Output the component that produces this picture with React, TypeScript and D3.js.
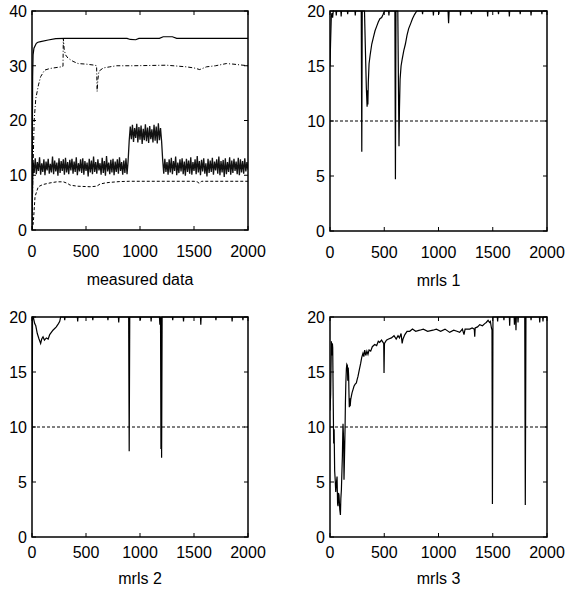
import React from "react";
import * as d3 from "d3";

// ---------- data ----------
const xTicks = [0, 500, 1000, 1500, 2000];
const yTicksMeas = [0, 10, 20, 30, 40];
const yTicksMrls = [0, 5, 10, 15, 20];
const threshold = 10;

// measured data: solid
const measSolid: [number, number][] = [
  [0, 0], [3, 15], [6, 28], [10, 32], [18, 33.2], [40, 34.1], [55, 34.3], [80, 34.4], [150, 34.7], [220, 34.95],
  [300, 35], [880, 35], [910, 34.8], [960, 34.75], [990, 35], [1180, 35], [1215, 35.3], [1300, 35.3], [1340, 35], [2000, 35],
];
// measured data: dash-dot
const measDashDot: [number, number][] = [
  [0, 0], [8, 10], [20, 20], [35, 24], [60, 26.5], [80, 28], [117, 29.2], [166, 29.5], [270, 29.8], [287, 29.9],
  [290, 35], [298, 33], [310, 32], [333, 31.4], [380, 30.8], [426, 30.4], [500, 30.3], [580, 30.1], [598, 30.0],
  [603, 25.3], [610, 27.5], [620, 29], [660, 29.6], [720, 29.8], [783, 30], [937, 30], [1245, 30.1], [1430, 29.8],
  [1500, 29.6], [1553, 29.3], [1615, 29.8], [1700, 30.0], [1800, 30.4], [1861, 30.3], [2000, 30],
];
// measured data: dashed
const measDashed: [number, number][] = [
  [0, 0], [5, 0.5], [12, 1.3], [28, 6.1], [58, 7.9], [100, 8.3], [167, 8.6], [230, 8.8], [290, 8.8], [330, 8.5],
  [352, 8.2], [420, 8.0], [537, 7.9], [600, 8.0], [630, 8.4], [680, 8.6], [722, 8.7], [815, 8.85], [900, 8.9],
  [1500, 8.9], [1530, 8.8], [1550, 8.5], [1570, 8.9], [2000, 8.9],
];
// measured data: noisy dotted signal, one reading every 10 samples from 0 to 2000
const measNoisy = [
  3, 12.6, 10.4, 13.1, 10.2, 12.4, 10.8, 13.3, 10.1, 12.2,
  10.6, 12.9, 10.0, 12.5, 10.9, 13.0, 10.3, 12.1, 10.5, 13.4,
  10.2, 12.7, 10.7, 12.3, 9.9, 13.1, 10.4, 12.6, 10.8, 12.9,
  10.1, 13.2, 10.5, 12.4, 10.2, 12.8, 10.9, 13.0, 10.3, 12.5,
  10.6, 13.3, 10.0, 12.2, 10.7, 12.9, 10.4, 13.1, 10.1, 12.6,
  10.8, 12.3, 9.8, 13.0, 10.5, 12.7, 10.2, 13.4, 10.6, 12.4,
  10.3, 12.9, 10.9, 12.2, 10.1, 13.2, 10.4, 12.6, 9.9, 13.5,
  10.7, 12.3, 10.2, 12.8, 10.5, 13.0, 10.0, 12.5, 10.6, 12.9,
  10.3, 13.3, 10.8, 12.4, 10.1, 12.7, 10.4, 13.1, 10.2, 12.6,
  16.3, 18.9, 16.6, 19.2, 16.1, 18.6, 16.8, 19.4, 16.0, 18.8,
  16.5, 19.1, 15.7, 18.5, 16.4, 19.3, 16.2, 18.7, 15.9, 19.0,
  16.6, 18.4, 16.0, 19.2, 16.3, 18.9, 15.8, 19.5, 16.4, 18.6,
  16.2,
  12.8, 10.3, 13.0, 10.6, 12.4, 10.1, 12.9, 10.5, 13.2,
  10.2, 12.6, 10.8, 13.4, 10.0, 12.3, 10.4, 12.9, 10.7, 13.1,
  10.2, 12.5, 9.9, 13.0, 10.6, 12.7, 10.3, 13.3, 10.1, 12.4,
  10.8, 12.9, 10.2, 13.5, 10.5, 12.6, 10.0, 12.8, 10.7, 13.1,
  10.3, 12.2, 9.8, 13.0, 10.4, 12.7, 10.6, 13.2, 10.1, 12.5,
  10.9, 12.9, 10.3, 13.4, 10.0, 12.6, 10.5, 12.8, 9.7, 13.1,
  10.2, 12.4, 10.6, 13.3, 10.1, 12.7, 10.4, 13.0, 10.8, 12.5,
  10.2, 13.2, 10.0, 12.9, 10.5, 12.6, 10.3, 13.1, 10.7, 12.4,
  11.0,
];
const noisyX = d3.range(0, 2001, 10);

const mrls1: [number, number][] = [
  [0, 15], [5, 17], [12, 19.5], [18, 19.8], [24, 19.4], [30, 20], [55, 20], [58, 19.6], [61, 20], [100, 20], [103, 19.5],
  [106, 20], [160, 20], [163, 19.7], [166, 20], [230, 20], [233, 19.6], [236, 20], [288, 20], [293, 7.2], [297, 20],
  [318, 20], [325, 17], [335, 13], [342, 11.3], [346, 12.8], [349, 11.5], [353, 13.5], [360, 15.2], [370, 16.0],
  [385, 17.0], [400, 17.6], [415, 18.2], [430, 18.6], [445, 19.0], [460, 19.3], [476, 19.4], [490, 19.7], [502, 20],
  [540, 20], [543, 19.6], [546, 20], [598, 20], [603, 4.7], [608, 20], [625, 20], [632, 12], [636, 7.7], [640, 11],
  [646, 13.8], [655, 15.0], [665, 15.6], [680, 16.4], [695, 17.0], [710, 17.8], [725, 18.4], [745, 18.9], [760, 19.3],
  [780, 19.7], [800, 20], [850, 20], [853, 19.7], [856, 20], [950, 20], [953, 19.6], [956, 20], [1000, 20], [1003, 19.7],
  [1006, 20], [1088, 20], [1093, 18.9], [1098, 20], [1200, 20], [1203, 19.6], [1206, 20], [1300, 20], [1303, 19.7],
  [1306, 20], [1450, 20], [1453, 19.5], [1456, 20], [1550, 20], [1553, 19.7], [1556, 20], [1650, 20], [1653, 19.5],
  [1656, 20], [1750, 20], [1753, 19.7], [1756, 20], [1850, 20], [1853, 19.6], [1856, 20], [1950, 20], [1953, 19.7],
  [1956, 20], [2000, 20],
];

const mrls2: [number, number][] = [
  [0, 5], [5, 20], [12, 20], [25, 19.4], [35, 19.2], [49, 18.5], [65, 18.0], [80, 17.6], [90, 18.0], [102, 18.2],
  [115, 17.9], [133, 18.1], [150, 18.0], [164, 18.4], [194, 18.8], [225, 19.1], [245, 19.4], [257, 19.6], [265, 20],
  [300, 20], [303, 19.7], [306, 20], [420, 20], [423, 19.6], [426, 20], [560, 20], [563, 19.7], [566, 20], [700, 20],
  [703, 19.7], [706, 20], [800, 20], [803, 19.5], [806, 20], [895, 20], [900, 7.8], [905, 20], [1000, 20], [1003, 19.7],
  [1006, 20], [1100, 20], [1103, 19.6], [1106, 20], [1180, 20], [1184, 19.3], [1190, 20], [1194, 8], [1197, 20],
  [1200, 7.2], [1205, 20], [1300, 20], [1303, 19.7], [1306, 20], [1400, 20], [1403, 19.6], [1406, 20], [1560, 20],
  [1563, 19.3], [1566, 20], [1700, 20], [1703, 19.7], [1706, 20], [1850, 20], [1853, 19.6], [1856, 20], [1950, 20],
  [1953, 19.7], [1956, 20], [2000, 20],
];

const mrls3: [number, number][] = [
  [0, 11.5], [6, 13], [13, 17.8], [18, 16.5], [22, 17.6], [25, 17.2], [30, 12], [34, 8.5], [38, 9.8], [43, 6], [48, 5.2],
  [53, 4.1], [58, 4.8], [65, 5.5], [70, 3], [74, 2.8], [78, 4], [83, 3.8], [90, 2.5], [96, 2.0], [100, 3.5], [105, 4.3],
  [110, 6], [114, 7.3], [118, 9.5], [120, 10.3], [123, 9.5], [126, 8.5], [129, 5.2], [132, 6.5], [135, 7.9], [139, 10],
  [142, 12.2], [146, 14], [151, 15.3], [155, 15.7], [160, 15.6], [164, 14.2], [168, 15.4], [172, 14.6], [175, 13],
  [178, 11.8], [182, 12.6], [186, 11.9], [191, 12.5], [197, 12.8], [203, 13.1], [212, 13.4], [221, 13.7], [232, 13.9],
  [243, 14.0], [250, 14.3], [258, 14.6], [270, 15.2], [283, 15.8], [292, 16.3], [304, 16.7], [312, 16.4], [320, 17.0],
  [330, 16.5], [340, 16.9], [350, 16.6], [360, 17.0], [375, 16.9], [390, 17.3], [412, 17.5], [430, 17.4], [445, 17.8],
  [458, 17.7], [475, 17.9], [495, 17.6], [498, 14.9], [502, 17.6], [520, 17.9], [540, 18.0], [566, 18.1], [590, 18.3],
  [610, 18.0], [627, 18.3], [640, 18.1], [655, 18.5], [665, 17.6], [673, 18.0], [690, 18.4], [710, 18.7], [735, 18.7],
  [760, 18.9], [790, 18.7], [827, 18.8], [860, 18.9], [900, 18.7], [949, 18.8], [980, 18.9], [1020, 18.7], [1060, 18.9],
  [1103, 18.6], [1140, 18.8], [1170, 18.7], [1195, 18.6], [1220, 18.9], [1235, 18.4], [1245, 18.9], [1288, 18.9],
  [1310, 19.0], [1330, 18.9], [1334, 18.2], [1338, 19.0], [1360, 19.1], [1380, 19.3], [1405, 19.2], [1426, 19.4],
  [1440, 19.5], [1457, 19.7], [1470, 19.5], [1478, 19.6], [1488, 19.0], [1493, 18.8], [1497, 3.0], [1502, 20],
  [1542, 20], [1545, 19.6], [1548, 20], [1600, 20], [1603, 19.7], [1606, 20], [1653, 20], [1656, 19.2], [1659, 20],
  [1697, 20], [1700, 19.3], [1703, 20], [1711, 20], [1714, 18.8], [1717, 20], [1730, 20], [1733, 19.5], [1736, 20],
  [1795, 20], [1800, 2.9], [1806, 20], [1850, 20], [1853, 19.7], [1856, 20], [1930, 20], [1933, 19.5], [1936, 20],
  [1960, 20], [1963, 19.6], [1966, 20], [2000, 20],
];

// ---------- layout ----------
const FONT = "'Liberation Sans', Arial, Helvetica, sans-serif";

type Box = { x0: number; x1: number; y0: number; y1: number; tickOff: number; labelOff: number };

function Panel({ box, yMax, yTicks, label, children }: {
  box: Box; yMax: number; yTicks: number[]; label: string;
  children: (x: d3.ScaleLinear<number, number>, y: d3.ScaleLinear<number, number>) => React.ReactNode;
}) {
  const x = d3.scaleLinear().domain([0, 2000]).range([box.x0, box.x1]);
  const y = d3.scaleLinear().domain([0, yMax]).range([box.y1, box.y0]);
  const tl = 4;
  const id = "clip" + label.replace(/\s/g, "");
  return (
    <g>
      <defs>
        <clipPath id={id}>
          <rect x={box.x0} y={box.y0 - 1} width={box.x1 - box.x0} height={box.y1 - box.y0 + 2} />
        </clipPath>
      </defs>
      <g clipPath={`url(#${id})`}>{children(x, y)}</g>
      <rect x={box.x0} y={box.y0} width={box.x1 - box.x0} height={box.y1 - box.y0} fill="none" stroke="#000" strokeWidth={1.5} />
      {xTicks.map((t) => (
        <g key={"x" + t}>
          <line x1={x(t)} x2={x(t)} y1={box.y1} y2={box.y1 - tl} stroke="#000" strokeWidth={1} />
          <line x1={x(t)} x2={x(t)} y1={box.y0} y2={box.y0 + tl} stroke="#000" strokeWidth={1} />
          <text x={x(t)} y={box.y1 + box.tickOff} textAnchor="middle" fontSize={16} fontFamily={FONT}>{t}</text>
        </g>
      ))}
      {yTicks.map((t) => (
        <g key={"y" + t}>
          <line x1={box.x0} x2={box.x0 + tl} y1={y(t)} y2={y(t)} stroke="#000" strokeWidth={1} />
          <line x1={box.x1} x2={box.x1 - tl} y1={y(t)} y2={y(t)} stroke="#000" strokeWidth={1} />
          <text x={box.x0 - 5} y={y(t)} dy="0.36em" textAnchor="end" fontSize={16} fontFamily={FONT}>{t}</text>
        </g>
      ))}
      <text x={(box.x0 + box.x1) / 2} y={box.y1 + box.labelOff} textAnchor="middle" fontSize={16} fontFamily={FONT}>{label}</text>
    </g>
  );
}

function pathOf(pts: [number, number][], x: any, y: any) {
  return d3.line<[number, number]>().x((d) => x(d[0])).y((d) => y(d[1]))(pts) || "";
}

export default function App() {
  const boxes: Box[] = [
    { x0: 32, x1: 248, y0: 11, y1: 230, tickOff: 27, labelOff: 55 },
    { x0: 330, x1: 547, y0: 11, y1: 231, tickOff: 27, labelOff: 55 },
    { x0: 32, x1: 248, y0: 317, y1: 537, tickOff: 21, labelOff: 47 },
    { x0: 330, x1: 547, y0: 317, y1: 537, tickOff: 21, labelOff: 47 },
  ];
  const noisyPts: [number, number][] = noisyX.map((v, i) => [v, measNoisy[i]]);
  const thr = (x: any, y: any) => (
    <line x1={x(0)} x2={x(2000)} y1={y(threshold)} y2={y(threshold)} stroke="#000" strokeWidth={1} strokeDasharray="3,2" />
  );
  return (
    <svg width={566} height={595} style={{ position: "absolute", left: 0, top: 0, background: "#fff" }}>
      <rect width={566} height={595} fill="#fff" />
      <Panel box={boxes[0]} yMax={40} yTicks={yTicksMeas} label="measured data">
        {(x, y) => (
          <>
            <path d={pathOf(noisyPts, x, y)} fill="none" stroke="#111" strokeWidth={1.3} />
            <path d={pathOf(measDashed, x, y)} fill="none" stroke="#000" strokeWidth={1} strokeDasharray="3,2" />
            <path d={pathOf(measDashDot, x, y)} fill="none" stroke="#000" strokeWidth={1} strokeDasharray="4,2,1,2" />
            <path d={pathOf(measSolid, x, y)} fill="none" stroke="#000" strokeWidth={1.2} />
          </>
        )}
      </Panel>
      <Panel box={boxes[1]} yMax={20} yTicks={yTicksMrls} label="mrls 1">
        {(x, y) => (
          <>
            {thr(x, y)}
            <path d={pathOf(mrls1, x, y)} fill="none" stroke="#000" strokeWidth={1.2} />
          </>
        )}
      </Panel>
      <Panel box={boxes[2]} yMax={20} yTicks={yTicksMrls} label="mrls 2">
        {(x, y) => (
          <>
            {thr(x, y)}
            <path d={pathOf(mrls2, x, y)} fill="none" stroke="#000" strokeWidth={1.2} />
          </>
        )}
      </Panel>
      <Panel box={boxes[3]} yMax={20} yTicks={yTicksMrls} label="mrls 3">
        {(x, y) => (
          <>
            {thr(x, y)}
            <path d={pathOf(mrls3, x, y)} fill="none" stroke="#000" strokeWidth={1.2} />
          </>
        )}
      </Panel>
    </svg>
  );
}
